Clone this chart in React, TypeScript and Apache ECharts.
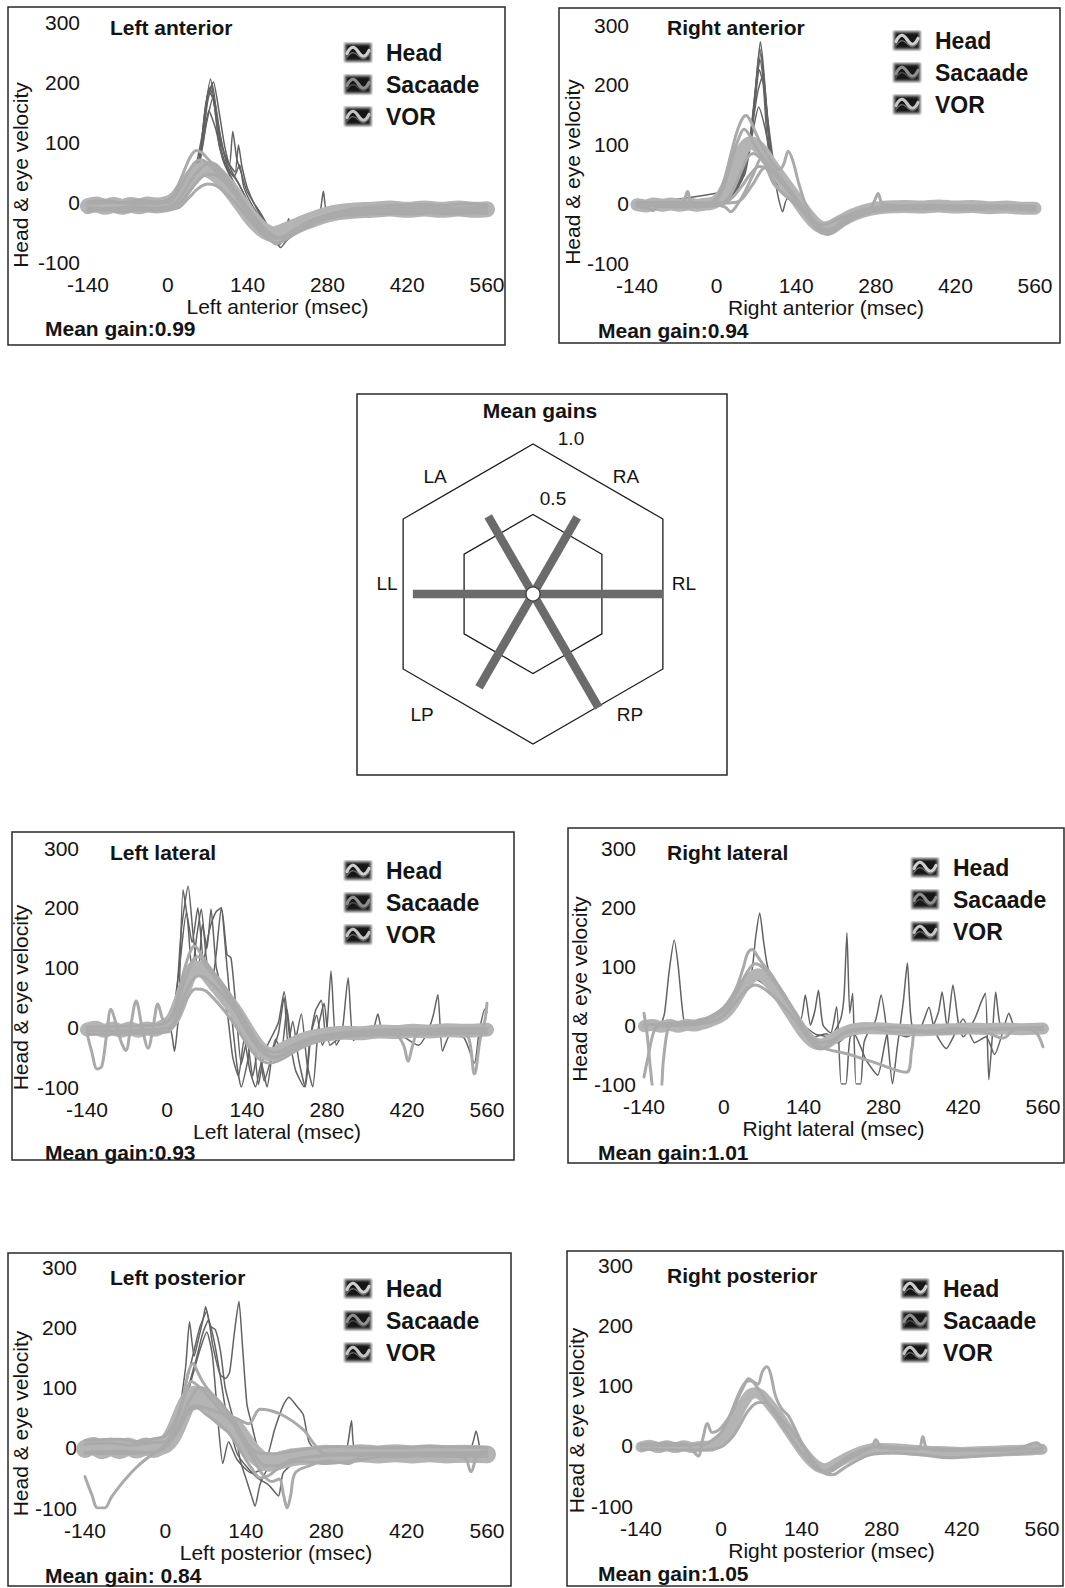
import React, { useEffect, useRef } from "react";
import * as echarts from "echarts";

type Pt = [number, number];
type Trace = Pt[];

// ---------- axes ----------
const timeTicks = [-140, 0, 140, 280, 420, 560];
const velocityTicks = [-100, 0, 100, 200, 300];
const velocityAxisName = "Head & eye velocity";

// ---------- panel texts ----------
const panelTitles = ["Left anterior", "Right anterior", "Left lateral", "Right lateral", "Left posterior", "Right posterior"];
const timeAxisNames = [
  "Left anterior (msec)",
  "Right anterior (msec)",
  "Left lateral (msec)",
  "Right lateral (msec)",
  "Left posterior (msec)",
  "Right posterior (msec)",
];
const meanGainLabels = ["Mean gain:0.99", "Mean gain:0.94", "Mean gain:0.93", "Mean gain:1.01", "Mean gain: 0.84", "Mean gain:1.05"];
const legendNames = ["Head", "Sacaade", "VOR"];

// ---------- mean gains hexagon ----------
const gainsTitle = "Mean gains";
const canalLabels = ["RL", "RA", "LA", "LL", "LP", "RP"];
const canalAngles = [0, 60, 120, 180, 240, 300];
const canalGains = [1.0, 0.66, 0.67, 0.92, 0.82, 1.01];
const ringLevels = [0.5, 1.0];
const ringLabels = ["0.5", "1.0"];

// ---------- Left anterior ----------
const laHead: Trace = [[-140,-7],[-125,-4],[-110,-8],[-95,-5],[-80,-8],[-65,-5],[-50,-7],[-35,-4],[-20,-6],[-5,-4],[5,-1],[15,6],[25,18],[35,32],[45,44],[55,52],[65,55],[75,52],[85,46],[95,37],[105,26],[115,14],[125,1],[135,-12],[145,-25],[155,-36],[165,-45],[175,-51],[185,-54],[195,-52],[210,-46],[225,-40],[240,-34],[260,-27],[280,-21],[300,-17],[330,-14],[360,-13],[390,-11],[420,-13],[450,-11],[480,-13],[510,-11],[540,-13],[560,-12]];
const laVor: Trace[] = [
  [[-140,0],[-110,2],[-80,-1],[-50,3],[-20,0],[0,3],[10,12],[20,32],[30,55],[40,76],[50,86],[60,82],[70,72],[80,62],[90,52],[100,40],[110,27],[120,13],[130,-1],[140,-14],[150,-27],[160,-40],[170,-52],[180,-63],[190,-70],[200,-66],[215,-54],[230,-42],[250,-32],[270,-25],[290,-19],[320,-12],[360,-8],[400,-5],[440,-4],[480,-6],[520,-3],[560,-5]],
  [[-140,-15],[-110,-13],[-80,-16],[-50,-13],[-20,-15],[0,-13],[20,-9],[30,0],[40,10],[50,20],[60,27],[70,30],[80,29],[90,24],[100,16],[110,7],[120,-3],[130,-14],[140,-25],[150,-37],[160,-48],[170,-57],[180,-64],[190,-68],[200,-66],[220,-55],[240,-44],[260,-35],[280,-28],[300,-24],[340,-21],[380,-19],[420,-20],[460,-18],[500,-20],[540,-18],[560,-19]],
  [[-140,-9],[-100,-11],[-60,-8],[-20,-10],[0,-8],[15,0],[30,20],[45,42],[60,58],[75,66],[85,62],[95,52],[105,40],[115,26],[125,12],[135,-4],[145,-20],[160,-38],[175,-52],[190,-60],[205,-58],[225,-46],[250,-32],[280,-22],[320,-16],[380,-14],[440,-15],[500,-14],[560,-15]],
  [[-140,-3],[-90,-1],[-40,-3],[0,-1],[10,6],[20,20],[30,38],[40,56],[50,68],[60,70],[70,64],[80,55],[90,45],[100,34],[110,22],[120,9],[130,-5],[145,-24],[160,-42],[175,-55],[190,-60],[205,-56],[225,-45],[250,-32],[280,-22],[320,-15],[380,-11],[440,-9],[500,-10],[560,-9]],
  [[-140,-12],[-80,-10],[-20,-12],[0,-10],[20,-2],[35,14],[50,32],[65,45],[80,46],[95,38],[110,24],[125,8],[140,-10],[155,-28],[170,-44],[185,-56],[200,-60],[220,-52],[245,-38],[275,-26],[310,-19],[360,-16],[420,-15],[480,-16],[560,-15]],
];
const laSaccade: Trace[] = [
  [[-140,-6],[0,-3],[20,6],[40,30],[55,70],[65,150],[75,205],[82,160],[90,95],[100,66],[112,40],[126,12],[140,-8],[160,-32],[180,-58],[195,-72],[205,-55],[212,-28],[218,-50],[240,-40],[265,-25],[273,18],[280,-18],[320,-14],[400,-11],[560,-12]],
  [[-140,-8],[10,0],[30,18],[48,45],[60,95],[70,180],[78,196],[87,135],[98,82],[108,60],[114,118],[121,72],[130,45],[138,20],[150,0],[165,-22],[180,-48],[198,-76],[210,-62],[230,-46],[270,-26],[330,-16],[560,-12]],
  [[-140,-5],[0,-4],[20,8],[40,35],[55,62],[68,132],[80,176],[92,112],[104,62],[116,42],[126,62],[133,26],[145,0],[165,-30],[185,-52],[205,-60],[230,-42],[270,-24],[330,-15],[420,-12],[560,-11]],
  [[-140,-4],[0,-4],[15,4],[30,20],[50,52],[62,102],[72,152],[84,122],[96,72],[110,42],[130,12],[150,-18],[175,-48],[200,-62],[230,-48],[260,-30],[300,-18],[360,-13],[560,-11]],
  [[-140,-7],[5,-3],[20,8],[40,32],[58,82],[70,168],[80,200],[90,150],[100,92],[110,56],[125,30],[140,2],[165,-35],[190,-58],[220,-50],[260,-28],[300,-17],[360,-13],[560,-11]],
  [[-140,-6],[0,-4],[20,8],[40,34],[56,75],[66,160],[74,190],[84,150],[94,85],[104,58],[118,40],[130,20],[140,0],[160,-30],[185,-55],[205,-65],[230,-45],[260,-28],[300,-17],[360,-13],[560,-11]],
  [[-140,-5],[0,-4],[20,8],[45,45],[60,110],[72,185],[80,170],[88,120],[96,90],[106,66],[118,50],[124,95],[130,60],[140,22],[160,-18],[185,-52],[205,-66],[230,-44],[260,-28],[300,-17],[360,-13],[560,-11]],
];

// ---------- Right anterior ----------
const raHead: Trace = [[-140,-2],[-125,-4],[-110,-1],[-95,-3],[-80,-1],[-65,-3],[-50,-1],[-35,-3],[-20,-1],[-10,0],[0,4],[10,14],[20,32],[30,55],[40,78],[50,96],[60,102],[70,98],[80,88],[90,74],[100,60],[110,47],[120,34],[130,21],[140,8],[150,-6],[160,-19],[170,-30],[180,-38],[190,-41],[200,-39],[210,-34],[225,-26],[240,-19],[260,-12],[280,-8],[300,-6],[330,-5],[360,-6],[390,-4],[420,-6],[450,-5],[480,-7],[510,-6],[540,-8],[560,-8]];
const raVor: Trace[] = [
  [[-140,0],[-70,1],[-58,4],[-51,20],[-44,3],[-20,0],[-5,4],[5,18],[15,45],[25,82],[35,118],[45,142],[52,148],[60,138],[70,116],[80,96],[90,80],[100,66],[110,57],[118,66],[126,88],[134,72],[145,32],[158,-6],[172,-34],[186,-50],[200,-48],[220,-32],[245,-17],[270,-8],[278,5],[284,17],[292,0],[320,-4],[380,-3],[440,-5],[500,-4],[560,-7]],
  [[-140,-6],[-120,-8],[-112,-12],[-102,-5],[-60,-6],[-20,-5],[0,-4],[10,-2],[20,4],[30,12],[45,30],[60,50],[75,62],[90,58],[105,45],[120,28],[135,10],[150,-10],[165,-30],[180,-45],[195,-52],[210,-46],[230,-32],[250,-21],[280,-13],[320,-10],[380,-9],[440,-10],[500,-9],[560,-12]],
  [[-140,-4],[0,-3],[15,-6],[25,-14],[35,-4],[50,20],[65,50],[80,78],[92,52],[105,30],[120,14],[140,-2],[160,-22],[180,-42],[200,-44],[230,-26],[270,-10],[320,-6],[560,-6]],
  [[-140,2],[20,1],[40,4],[62,30],[85,60],[100,34],[120,14],[140,0],[160,-18],[185,-36],[220,-24],[260,-10],[300,-5],[560,-4]],
  [[-140,-1],[-60,-2],[-10,0],[0,5],[10,22],[20,50],[30,85],[40,112],[48,125],[56,118],[66,100],[78,82],[90,68],[102,55],[115,40],[130,22],[145,2],[160,-20],[175,-38],[190,-46],[205,-42],[225,-28],[250,-14],[280,-7],[330,-5],[400,-6],[480,-6],[560,-7]],
  [[-140,-3],[-60,-4],[0,-2],[15,4],[25,15],[35,35],[45,58],[55,78],[65,84],[75,78],[88,64],[100,50],[115,36],[130,20],[145,2],[160,-18],[178,-36],[192,-44],[208,-40],[230,-26],[260,-12],[300,-7],[380,-6],[460,-7],[560,-9]],
];
const raSaccade: Trace[] = [
  [[-140,-3],[20,5],[35,20],[50,60],[62,130],[72,230],[77,272],[83,222],[90,132],[96,72],[104,32],[110,4],[116,-14],[124,8],[140,4],[160,-24],[185,-45],[210,-38],[250,-14],[300,-6],[560,-6]],
  [[-140,-2],[20,8],[38,32],[55,82],[66,162],[76,242],[84,192],[92,112],[100,62],[115,32],[135,10],[155,-14],[185,-42],[220,-30],[260,-12],[300,-6],[560,-6]],
  [[-140,-4],[25,10],[42,42],[58,102],[70,202],[78,252],[86,172],[94,92],[104,46],[120,26],[140,0],[170,-34],[200,-42],[240,-20],[280,-8],[560,-6]],
  [[-140,-1],[5,2],[30,20],[45,40],[60,112],[72,186],[80,212],[90,142],[100,72],[110,42],[130,16],[160,-24],[190,-45],[220,-30],[260,-12],[300,-6],[560,-5]],
  [[-140,-3],[10,8],[35,30],[50,50],[64,122],[74,162],[84,132],[95,82],[110,42],[140,6],[170,-36],[190,-42],[220,-30],[260,-12],[300,-6],[560,-6]],
  [[-140,-2],[15,20],[40,40],[58,95],[68,175],[75,225],[82,200],[88,120],[96,60],[108,38],[130,18],[165,-30],[190,-42],[220,-28],[260,-12],[300,-6],[560,-5]],
  [[-140,-2],[20,6],[40,35],[56,90],[68,190],[76,260],[84,205],[92,120],[100,55],[112,20],[130,8],[160,-24],[190,-42],[220,-28],[260,-12],[300,-6],[560,-6]],
];

// ---------- Left lateral ----------
const llHead: Trace = [[-140,-4],[-125,-1],[-110,-6],[-95,-2],[-80,-6],[-65,-2],[-50,-6],[-35,-2],[-20,-4],[-10,0],[0,4],[10,14],[20,35],[30,62],[40,88],[50,100],[60,98],[70,88],[80,76],[90,64],[100,52],[110,40],[120,27],[130,12],[140,-4],[150,-19],[160,-32],[170,-41],[180,-45],[190,-44],[200,-38],[220,-28],[240,-20],[260,-15],[280,-12],[310,-9],[340,-10],[370,-7],[400,-8],[430,-6],[460,-7],[490,-5],[520,-6],[560,-4]];
const llVor: Trace[] = [
  [[-140,-10],[-132,-40],[-122,-70],[-114,-65],[-106,-15],[-98,30],[-88,2],[-80,-25],[-72,-39],[-63,5],[-54,44],[-44,2],[-33,-35],[-24,2],[-16,39],[-7,12],[0,10],[10,22],[20,55],[30,95],[40,125],[48,136],[56,128],[66,112],[80,94],[95,76],[110,55],[125,30],[140,5],[155,-20],[170,-40],[185,-50],[200,-48],[220,-36],[250,-22],[280,-14],[320,-12],[360,-8],[400,-12],[414,-30],[422,-57],[430,-30],[440,-10],[500,-8],[525,-12],[538,-78],[548,-20],[556,10],[560,40]],
  [[-140,-12],[-60,-10],[0,-8],[10,0],[20,18],[35,48],[50,64],[65,62],[80,50],[100,28],[120,2],[140,-28],[160,-52],[180,-60],[200,-54],[230,-37],[270,-22],[320,-15],[400,-12],[480,-11],[560,-10]],
  [[-140,0],[-60,2],[-20,4],[0,8],[15,30],[30,75],[45,112],[55,118],[70,100],[90,76],[110,48],[130,15],[150,-15],[170,-35],[190,-42],[220,-30],[260,-16],[320,-8],[400,-4],[480,-3],[560,-2]],
  [[-140,-6],[-60,-5],[0,-2],[12,10],[25,40],[40,72],[55,86],[70,80],[90,62],[110,40],[130,10],[150,-22],[170,-44],[190,-50],[215,-40],[250,-22],[300,-12],[380,-8],[460,-6],[560,-5]],
];
const llSaccade: Trace[] = [
  [[-140,-5],[-20,-2],[0,8],[8,-10],[13,-40],[20,20],[28,230],[36,180],[44,92],[52,152],[60,198],[68,122],[77,62],[86,122],[95,200],[104,112],[112,30],[122,-60],[130,-100],[140,-62],[150,-12],[160,-96],[170,-42],[180,-22],[195,8],[205,60],[215,-20],[225,-72],[240,-100],[250,-22],[260,28],[270,45],[278,-22],[287,94],[296,-30],[306,-12],[317,83],[326,-22],[340,-14],[360,-6],[369,22],[378,-8],[420,-10],[560,-6]],
  [[-140,-3],[0,0],[15,40],[25,162],[37,236],[46,152],[55,92],[62,172],[70,132],[77,198],[86,102],[96,62],[106,20],[115,-50],[125,-82],[135,-20],[145,-72],[155,-100],[165,-60],[175,-100],[185,-40],[195,-10],[205,50],[212,-30],[220,10],[230,-52],[242,-100],[252,-12],[262,20],[272,-30],[282,-10],[300,-6],[560,-6]],
  [[-140,0],[0,-5],[10,20],[22,102],[34,192],[44,142],[54,200],[64,112],[74,162],[85,192],[95,200],[105,122],[112,116],[120,40],[130,-62],[140,-22],[150,-82],[160,-32],[170,-90],[180,-60],[190,-20],[200,-40],[210,30],[220,-42],[235,22],[245,-60],[255,-100],[265,0],[275,40],[285,-30],[300,-20],[340,-12],[400,-6],[560,-6]],
  [[-140,-6],[0,2],[30,60],[60,95],[100,50],[130,10],[160,-35],[200,-38],[260,-12],[300,-8],[350,-5],[400,-8],[440,-30],[455,-10],[466,20],[474,55],[482,-40],[496,-12],[520,-18],[538,-60],[546,-10],[556,30],[560,25]],
];

// ---------- Right lateral ----------
const rlHead: Trace = [[-140,-2],[-125,0],[-110,-3],[-95,0],[-80,-3],[-65,0],[-50,-1],[-40,2],[-30,4],[-20,8],[-10,12],[0,18],[10,28],[20,42],[30,58],[40,72],[50,82],[60,86],[70,82],[80,72],[90,60],[100,46],[110,31],[120,16],[130,1],[140,-13],[150,-24],[160,-31],[170,-33],[180,-30],[190,-24],[200,-18],[215,-11],[230,-7],[250,-5],[280,-6],[310,-8],[340,-9],[370,-8],[400,-7],[430,-6],[460,-7],[490,-6],[520,-7],[560,-6]];
const rlVor: Trace[] = [
  [[-140,20],[-134,-20],[-128,-80],[-122,-110],[-112,-110],[-106,-60],[-100,-15],[-94,0],[-80,2],[-60,3],[-40,6],[-20,16],[0,30],[15,50],[25,70],[35,100],[42,122],[50,128],[58,118],[68,104],[80,90],[95,68],[110,45],[125,20],[140,-8],[155,-32],[170,-40],[185,-34],[200,-22],[220,-10],[260,-6],[300,-12],[360,-12],[400,-6],[460,-8],[520,-6],[545,-10],[560,-37]],
  [[-140,-88],[-132,-50],[-124,-15],[-116,-2],[-60,0],[-20,6],[0,16],[20,38],[40,60],[55,68],[70,62],[90,46],[110,26],[130,2],[150,-22],[169,-37],[220,-50],[260,-62],[320,-80],[330,-40],[338,-10],[380,-10],[440,-8],[500,-6],[560,-8]],
  [[-140,0],[-100,2],[-60,5],[-30,10],[0,24],[20,50],[40,88],[55,104],[70,96],[90,72],[110,42],[130,12],[150,-18],[170,-30],[190,-26],[210,-14],[240,-8],[300,-4],[380,-14],[450,-10],[490,-22],[510,-8],[560,-4]],
];
const rlSaccade: Trace[] = [
  [[-140,-2],[-112,0],[-104,20],[-96,90],[-87,144],[-80,100],[-73,30],[-66,-5],[-40,0],[0,20],[30,55],[48,85],[56,150],[63,190],[70,140],[78,95],[100,60],[125,20],[140,0],[160,-15],[185,-20],[198,31],[206,-100],[214,-100],[222,-20],[240,-10],[265,5],[276,51],[286,-10],[296,-100],[304,-40],[315,40],[322,105],[330,0],[350,-10],[560,-6]],
  [[-140,-4],[-40,2],[0,10],[40,70],[60,85],[90,65],[120,22],[135,10],[143,51],[152,0],[160,25],[166,59],[174,0],[190,-15],[205,10],[211,50],[216,156],[221,20],[226,54],[232,-100],[240,-100],[246,-30],[260,-5],[300,-10],[360,-10],[376,20],[383,56],[392,-5],[402,68],[412,0],[420,-20],[440,10],[452,40],[459,54],[465,-93],[471,-20],[477,56],[485,0],[500,-5],[560,-8]],
  [[-140,-3],[-40,0],[0,15],[50,80],[90,55],[120,15],[140,-25],[160,-20],[180,-15],[200,-30],[225,-10],[250,-60],[270,-85],[290,-10],[320,-20],[345,-5],[360,30],[370,-10],[390,-40],[420,10],[440,-30],[460,-20],[475,-50],[490,-10],[500,20],[512,-5],[560,-5]],
];

// ---------- Left posterior ----------
const lpHead: Trace = [[-140,-2],[-125,3],[-110,-4],[-95,2],[-80,-4],[-65,2],[-50,-3],[-35,2],[-20,-2],[-10,2],[0,6],[10,16],[20,35],[30,58],[40,78],[50,88],[60,86],[70,78],[80,68],[90,58],[100,49],[110,41],[120,34],[130,22],[140,8],[150,-5],[160,-15],[170,-22],[180,-25],[190,-24],[200,-21],[220,-16],[250,-13],[280,-10],[310,-12],[340,-9],[370,-11],[400,-9],[430,-11],[460,-9],[490,-11],[520,-10],[560,-11]];
const lpVor: Trace[] = [
  [[-140,-48],[-128,-78],[-118,-100],[-106,-100],[-94,-82],[-80,-64],[-66,-48],[-52,-34],[-38,-22],[-24,-12],[-10,-4],[0,6],[10,22],[20,45],[30,80],[40,125],[48,140],[56,126],[66,108],[80,90],[95,74],[110,55],[125,28],[140,2],[155,-22],[170,-45],[185,-56],[198,-52],[206,-80],[212,-100],[218,-80],[226,-42],[250,-30],[280,-22],[320,-26],[340,-14],[360,-10],[400,-15],[460,-12],[520,-16],[532,-40],[544,-10],[560,-6]],
  [[-140,6],[-100,8],[-60,4],[-30,8],[0,10],[20,30],[40,58],[55,66],[70,56],[90,42],[110,25],[130,-4],[150,-34],[165,-50],[180,-46],[200,-32],[230,-22],[280,-26],[340,-20],[400,-12],[480,-14],[560,-14]],
  [[-140,-10],[-20,-8],[10,12],[30,42],[50,70],[70,66],[95,58],[120,50],[145,40],[165,64],[200,56],[240,30],[260,5],[280,-10],[560,-8]],
  [[-140,12],[-80,14],[-50,10],[-20,15],[0,20],[20,50],[35,90],[45,110],[60,100],[80,80],[100,58],[120,38],[140,10],[160,-8],[190,-10],[230,-4],[300,2],[380,0],[460,2],[560,0]],
  [[-140,-8],[-80,-6],[-30,-8],[0,0],[15,20],[30,52],[45,84],[60,100],[75,94],[95,76],[115,52],[135,20],[155,-12],[175,-30],[195,-30],[220,-20],[260,-14],[320,-12],[400,-12],[480,-10],[560,-12]],
];
const lpSaccade: Trace[] = [
  [[-140,-5],[-20,0],[0,10],[20,42],[35,132],[42,209],[50,152],[58,182],[66,215],[70,234],[78,202],[87,196],[96,160],[104,100],[112,70],[120,40],[130,-20],[140,-50],[150,-80],[156,-97],[165,-60],[180,-32],[200,-20],[240,-16],[300,-16],[316,0],[324,45],[332,-10],[400,-12],[500,-12],[532,0],[541,28],[550,-10],[560,-15]],
  [[-140,-8],[0,5],[30,82],[45,142],[60,200],[72,226],[82,172],[95,122],[105,115],[112,126],[120,190],[128,243],[134,172],[142,72],[150,40],[160,2],[175,-18],[190,30],[205,70],[215,84],[228,70],[240,55],[250,10],[270,-12],[300,-16],[560,-12]],
  [[-140,-3],[10,20],[40,102],[55,152],[65,190],[75,212],[85,176],[95,122],[105,62],[115,22],[125,-10],[140,-30],[160,-50],[180,-62],[197,-80],[205,-42],[230,-22],[280,-16],[560,-10]],
  [[-140,-4],[0,4],[20,30],[45,112],[60,162],[72,192],[82,152],[92,40],[100,-26],[110,10],[125,-20],[150,-42],[170,-36],[200,-26],[260,-13],[320,-10],[560,-8]],
];

// ---------- Right posterior ----------
const rpHead: Trace = [[-140,-2],[-125,1],[-110,-3],[-95,0],[-80,-3],[-65,0],[-50,-3],[-35,-1],[-20,-1],[-10,2],[0,8],[10,20],[20,35],[30,55],[40,72],[50,85],[60,88],[70,84],[80,74],[90,62],[100,50],[110,36],[120,22],[130,8],[140,-6],[150,-18],[160,-28],[170,-35],[180,-38],[190,-36],[200,-30],[215,-22],[230,-15],[250,-8],[270,-4],[300,-5],[330,-7],[360,-9],[390,-10],[420,-11],[450,-10],[480,-9],[510,-8],[540,-7],[560,-6]];
const rpVor: Trace[] = [
  [[-140,3],[-100,4],[-60,2],[-48,-10],[-40,-17],[-32,12],[-24,37],[-16,22],[-8,24],[0,30],[10,42],[20,58],[30,80],[40,100],[48,111],[56,106],[64,102],[72,123],[80,131],[86,120],[95,82],[105,62],[117,50],[130,26],[140,6],[152,-16],[165,-34],[181,-44],[195,-40],[215,-26],[234,-17],[250,-8],[263,-2],[270,10],[280,-3],[320,-5],[345,-4],[352,15],[360,-5],[400,-8],[460,-6],[520,-4],[550,5],[560,-3]],
  [[-140,-6],[-60,-7],[-20,-6],[0,-2],[10,5],[20,15],[30,30],[45,55],[60,70],[75,72],[90,62],[105,45],[120,28],[135,10],[150,-10],[165,-30],[180,-45],[195,-48],[210,-40],[230,-28],[260,-15],[300,-12],[350,-15],[400,-20],[440,-18],[500,-14],[560,-10]],
  [[-140,0],[-30,2],[-15,10],[0,22],[15,50],[30,85],[42,105],[52,108],[62,98],[75,80],[90,58],[110,30],[130,2],[150,-22],[165,-38],[180,-42],[200,-32],[230,-14],[270,-2],[330,-4],[400,-6],[470,-8],[560,-4]],
];
const rpSaccade: Trace[] = [
  [[-140,-4],[-20,-2],[0,6],[20,30],[40,62],[55,80],[66,92],[76,85],[88,70],[100,55],[115,40],[130,20],[145,-5],[160,-25],[180,-40],[200,-34],[230,-16],[300,-8],[560,-8]],
];

const panelTraces = [
  { head: laHead, vor: laVor, saccade: laSaccade },
  { head: raHead, vor: raVor, saccade: raSaccade },
  { head: llHead, vor: llVor, saccade: llSaccade },
  { head: rlHead, vor: rlVor, saccade: rlSaccade },
  { head: lpHead, vor: lpVor, saccade: lpSaccade },
  { head: rpHead, vor: rpVor, saccade: rpSaccade },
];

// ---------- layout (pixels) ----------
const PANELS = [
  { grid: [88, 22, 399, 240], box: [8, 7, 497, 338], title: [110, 27], gain: [45, 328], legend: [343, 41], yGap: 57, yShift: 66, band: 16 },
  { grid: [637, 25, 398, 238], box: [559, 8, 501, 335], title: [667, 27], gain: [598, 330], legend: [892, 29], yGap: 51, yShift: 56, band: 13 },
  { grid: [87, 848, 400, 239], box: [12, 832, 502, 328], title: [110, 852], gain: [45, 1152], legend: [343, 859], yGap: 56, yShift: 60, band: 14 },
  { grid: [644, 848, 399, 236], box: [568, 828, 496, 335], title: [667, 852], gain: [598, 1152], legend: [910, 856], yGap: 51, yShift: 46, band: 12 },
  { grid: [85, 1267, 402, 241], box: [8, 1253, 503, 333], title: [110, 1277], gain: [45, 1575], legend: [343, 1277], yGap: 52, yShift: 72, band: 18 },
  { grid: [641, 1265, 401, 241], box: [567, 1251, 496, 335], title: [667, 1275], gain: [598, 1573], legend: [900, 1277], yGap: 50, yShift: 70, band: 11 },
];
const HEX = {
  center: [533, 594],
  radius: 150,
  box: [357, 394, 370, 381],
  title: [540, 410],
  ringLabelPos: [[553, 498], [571, 438]],
  canalLabelPos: [[684, 583], [626, 476], [435, 476], [387, 583], [422, 714], [630, 714]],
};
// radius axis starts slightly below zero so a zero gain sits just outside the hub
const R_MIN = -0.065;
const R_MAX = 1.165;

const FONT = "'Liberation Sans', Arial, Helvetica, sans-serif";
const INK = "#141414";
const HEAD_COLOR = "#b4b4b4";
const VOR_COLOR = "#aaaaaa";
const SACCADE_COLOR = "#626262";

function legendIcon(wave: string): string {
  const svg =
    `<svg xmlns="http://www.w3.org/2000/svg" width="30" height="22" viewBox="0 0 30 22">` +
    `<defs><filter id="f" x="-30%" y="-30%" width="160%" height="160%"><feGaussianBlur stdDeviation="0.9"/></filter></defs>` +
    `<rect x="2" y="2" width="26" height="18" fill="#141414" stroke="#8a8a8a" stroke-width="1.6" filter="url(#f)"/>` +
    `<path d="M4 12 C8 4 11 4 15 10 S22 17 26 9" fill="none" stroke="${wave}" stroke-width="3.2" stroke-linecap="round"/>` +
    `<path d="M4 16 C8 10 11 10 15 14 S22 19 26 13" fill="none" stroke="${wave}" stroke-opacity="0.45" stroke-width="1.3"/>` +
    `</svg>`;
  return "image://data:image/svg+xml;charset=utf-8," + encodeURIComponent(svg);
}
const legendIcons: Record<string, string> = {
  Head: legendIcon("#cfcfcf"),
  Sacaade: legendIcon("#8e8e8e"),
  VOR: legendIcon("#c4c4c4"),
};

function lineSeries(name: string, idx: number, data: Trace, color: string, width: number, smooth: number, z: number) {
  return {
    type: "line",
    name,
    xAxisIndex: idx,
    yAxisIndex: idx,
    data,
    symbol: "none",
    showSymbol: false,
    smooth,
    clip: true,
    silent: true,
    z,
    lineStyle: { color, width, join: "round", cap: "round" },
    itemStyle: { color },
    emphasis: { disabled: true },
  };
}

function buildOption(): any {
  const tMin = timeTicks[0];
  const tMax = timeTicks[timeTicks.length - 1];
  const vMin = velocityTicks[0];
  const vMax = velocityTicks[velocityTicks.length - 1];

  const grid = PANELS.map((p) => ({ left: p.grid[0], top: p.grid[1], width: p.grid[2], height: p.grid[3] }));

  const xAxis = PANELS.map((p, i) => ({
    type: "value",
    gridIndex: i,
    min: tMin,
    max: tMax,
    interval: timeTicks[1] - timeTicks[0],
    axisLine: { show: false },
    axisTick: { show: false },
    splitLine: { show: false },
    axisLabel: { fontSize: 21, color: INK, fontFamily: FONT, margin: 12, showMinLabel: true, showMaxLabel: true },
    name: timeAxisNames[i],
    nameLocation: "middle",
    nameGap: 34,
    nameTextStyle: { fontSize: 21, color: INK, fontFamily: FONT, padding: [0, 20, 0, 0] },
  }));

  const yAxis = PANELS.map((p, i) => ({
    type: "value",
    gridIndex: i,
    min: vMin,
    max: vMax,
    interval: velocityTicks[1] - velocityTicks[0],
    axisLine: { show: false },
    axisTick: { show: false },
    splitLine: { show: false },
    axisLabel: { fontSize: 21, color: INK, fontFamily: FONT, margin: 8 },
    name: velocityAxisName,
    nameLocation: "middle",
    nameRotate: 90,
    nameGap: p.yGap,
    nameTextStyle: { fontSize: 21, color: INK, fontFamily: FONT, padding: [0, p.yShift, 0, 0] },
  }));

  const legend = PANELS.map((p) => ({
    orient: "vertical",
    left: p.legend[0],
    top: p.legend[1],
    padding: 0,
    itemWidth: 30,
    itemHeight: 22,
    itemGap: 9,
    selectedMode: false,
    textStyle: { fontSize: 23, fontWeight: "bold", color: INK, fontFamily: FONT, lineHeight: 22, padding: [0, 0, 0, 8] },
    data: legendNames.map((n) => ({ name: n, icon: legendIcons[n] })),
  }));

  const series: any[] = [];
  panelTraces.forEach((tr, i) => {
    tr.saccade.forEach((s) => series.push(lineSeries("Sacaade", i, s, SACCADE_COLOR, 1.5, 0.2, 2)));
    series.push(lineSeries("Head", i, tr.head, HEAD_COLOR, PANELS[i].band, 0.35, 3));
    tr.vor.forEach((s) => series.push(lineSeries("VOR", i, s, VOR_COLOR, 3, 0.35, 4)));
  });

  // hexagonal rings: edge midpoints sit on the gain value along each canal axis
  series.push({
    type: "custom",
    name: "rings",
    coordinateSystem: "polar",
    polarIndex: 0,
    silent: true,
    z: 5,
    data: ringLevels.map((v) => [v, 0]),
    renderItem: (_params: any, api: any) => {
      const v = api.value(0) as number;
      const vertex = R_MIN + (v - R_MIN) / Math.cos(Math.PI / 6);
      const points = [30, 90, 150, 210, 270, 330].map((a) => api.coord([vertex, a]));
      return { type: "polygon", shape: { points }, style: { fill: "none", stroke: "#1c1c1c", lineWidth: 1.3 } };
    },
  });
  // gain spokes
  series.push({
    type: "custom",
    name: "gains",
    coordinateSystem: "polar",
    polarIndex: 0,
    silent: true,
    z: 6,
    data: canalGains.map((g, k) => [g, canalAngles[k]]),
    renderItem: (_params: any, api: any) => {
      const g = api.value(0) as number;
      const a = api.value(1) as number;
      const p0 = api.coord([R_MIN, a]);
      const p1 = api.coord([g, a]);
      return {
        type: "line",
        shape: { x1: p0[0], y1: p0[1], x2: p1[0], y2: p1[1] },
        style: { stroke: "#6b6b6b", lineWidth: 8.5, lineCap: "butt" },
      };
    },
  });
  // hub
  series.push({
    type: "custom",
    name: "hub",
    coordinateSystem: "polar",
    polarIndex: 0,
    silent: true,
    z: 7,
    data: [[R_MIN, 0]],
    renderItem: (_params: any, api: any) => {
      const c = api.coord([api.value(0), api.value(1)]);
      return { type: "circle", shape: { cx: c[0], cy: c[1], r: 7 }, style: { fill: "#ffffff", stroke: "#3a3a3a", lineWidth: 1.2 } };
    },
  });

  const graphic: any[] = [];
  PANELS.forEach((p, i) => {
    graphic.push({
      type: "rect",
      silent: true,
      shape: { x: p.box[0], y: p.box[1], width: p.box[2], height: p.box[3] },
      style: { fill: "none", stroke: "#2a2a2a", lineWidth: 1.5 },
    });
    graphic.push({
      type: "text",
      silent: true,
      x: p.title[0],
      y: p.title[1],
      style: { text: panelTitles[i], fontSize: 21, fontWeight: "bold", fontFamily: FONT, fill: INK, align: "left", verticalAlign: "middle" },
    });
    graphic.push({
      type: "text",
      silent: true,
      x: p.gain[0],
      y: p.gain[1],
      style: { text: meanGainLabels[i], fontSize: 21, fontWeight: "bold", fontFamily: FONT, fill: INK, align: "left", verticalAlign: "middle" },
    });
  });
  graphic.push({
    type: "rect",
    silent: true,
    shape: { x: HEX.box[0], y: HEX.box[1], width: HEX.box[2], height: HEX.box[3] },
    style: { fill: "none", stroke: "#2a2a2a", lineWidth: 1.5 },
  });
  graphic.push({
    type: "text",
    silent: true,
    x: HEX.title[0],
    y: HEX.title[1],
    style: { text: gainsTitle, fontSize: 21, fontWeight: "bold", fontFamily: FONT, fill: INK, align: "center", verticalAlign: "middle" },
  });
  ringLabels.forEach((t, k) => {
    graphic.push({
      type: "text",
      silent: true,
      x: HEX.ringLabelPos[k][0],
      y: HEX.ringLabelPos[k][1],
      style: { text: t, fontSize: 19, fontFamily: FONT, fill: INK, align: "center", verticalAlign: "middle" },
    });
  });
  canalLabels.forEach((t, k) => {
    graphic.push({
      type: "text",
      silent: true,
      x: HEX.canalLabelPos[k][0],
      y: HEX.canalLabelPos[k][1],
      style: { text: t, fontSize: 19, fontFamily: FONT, fill: INK, align: "center", verticalAlign: "middle" },
    });
  });

  return {
    animation: false,
    backgroundColor: "#ffffff",
    textStyle: { fontFamily: FONT },
    grid,
    xAxis,
    yAxis,
    polar: { center: HEX.center, radius: HEX.radius },
    angleAxis: { type: "value", min: 0, max: 360, startAngle: 0, clockwise: false, show: false },
    radiusAxis: { type: "value", min: R_MIN, max: R_MAX, show: false },
    legend,
    series,
    graphic,
  };
}

export default function App() {
  const ref = useRef<HTMLDivElement | null>(null);
  useEffect(() => {
    document.body.style.margin = "0";
    if (!ref.current) return;
    const chart = echarts.init(ref.current, undefined, { renderer: "svg" });
    chart.setOption(buildOption());
    return () => {
      chart.dispose();
    };
  }, []);
  return <div ref={ref} style={{ width: 1065, height: 1588, background: "#ffffff" }} />;
}
